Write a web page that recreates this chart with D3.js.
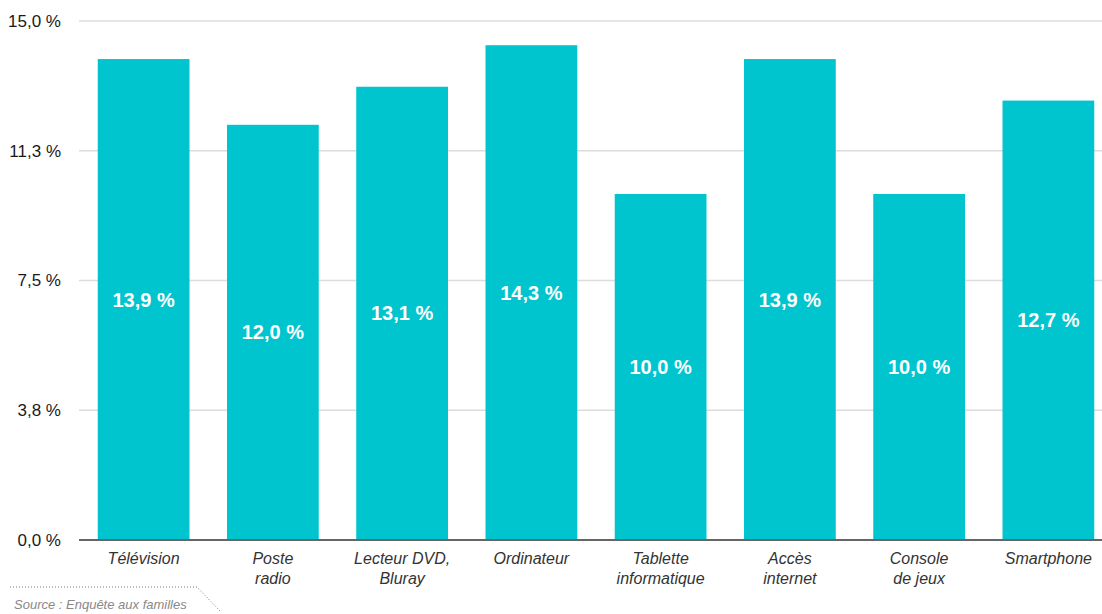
<!DOCTYPE html>
<html><head><meta charset="utf-8">
<script src="https://cdn.jsdelivr.net/npm/d3@7"></script>
<style>body{margin:0;background:#fff;font-family:"Liberation Sans",Arial,sans-serif;}</style>
</head><body><svg id="c" width="1102" height="614"></svg>
<script>
const categories = [["Télévision"],["Poste","radio"],["Lecteur DVD,","Bluray"],["Ordinateur"],["Tablette","informatique"],["Accès","internet"],["Console","de jeux"],["Smartphone"]];
const values = [13.9, 12.0, 13.1, 14.3, 10.0, 13.9, 10.0, 12.7];
const yTicks = [0, 3.75, 7.5, 11.25, 15];
const source = "Source : Enquête aux familles";

const svg = d3.select("#c");
const x = d3.scaleBand().domain(d3.range(categories.length)).range([79, 1113]).paddingInner(0.29).paddingOuter(0.145);
const y = d3.scaleLinear().domain([0, 15]).range([540, 21]);
const fmt = v => d3.format(".1f")(v).replace(".", ",") + " %";

svg.append("g").selectAll("line").data(yTicks.slice(1)).join("line")
  .attr("x1", 79).attr("x2", 1102).attr("y1", d => y(d)).attr("y2", d => y(d))
  .attr("stroke", "#dcdcdc").attr("stroke-width", 1.5);

svg.append("g").selectAll("text").data(yTicks).join("text")
  .attr("x", 61).attr("y", d => y(d)).attr("dy", "0.35em").attr("text-anchor", "end")
  .attr("font-size", 17).attr("fill", "#1a1a1a").text(d => fmt(d));

svg.append("g").selectAll("rect").data(values).join("rect")
  .attr("x", (d, i) => x(i)).attr("width", x.bandwidth())
  .attr("y", d => y(d)).attr("height", d => y(0) - y(d)).attr("fill", "#00c5cf");

svg.append("g").selectAll("text").data(values).join("text")
  .attr("x", (d, i) => x(i) + x.bandwidth() / 2).attr("y", d => (y(d) + y(0)) / 2)
  .attr("dy", "0.35em").attr("text-anchor", "middle").attr("font-size", 20).attr("font-weight", "bold")
  .attr("fill", "#fff").text(d => fmt(d));

svg.append("line").attr("x1", 79).attr("x2", 1102).attr("y1", y(0)).attr("y2", y(0))
  .attr("stroke", "#666").attr("stroke-width", 2);

const cl = svg.append("g").selectAll("text").data(categories).join("text")
  .attr("x", (d, i) => x(i) + x.bandwidth() / 2).attr("y", 564).attr("text-anchor", "middle")
  .attr("font-size", 16).attr("font-style", "italic").attr("fill", "#333");
cl.each(function(d) {
  const t = d3.select(this);
  d.forEach((s, k) => t.append("tspan").attr("x", t.attr("x")).attr("dy", k ? 20 : 0).text(s));
});

svg.append("path").attr("d", "M10,587 L197,587 L220,611").attr("fill", "none")
  .attr("stroke", "#777").attr("stroke-width", 1).attr("stroke-dasharray", "1,2");
svg.append("text").attr("x", 14).attr("y", 609).attr("font-size", 13).attr("font-style", "italic")
  .attr("fill", "#888").text(source);
</script></body></html>
